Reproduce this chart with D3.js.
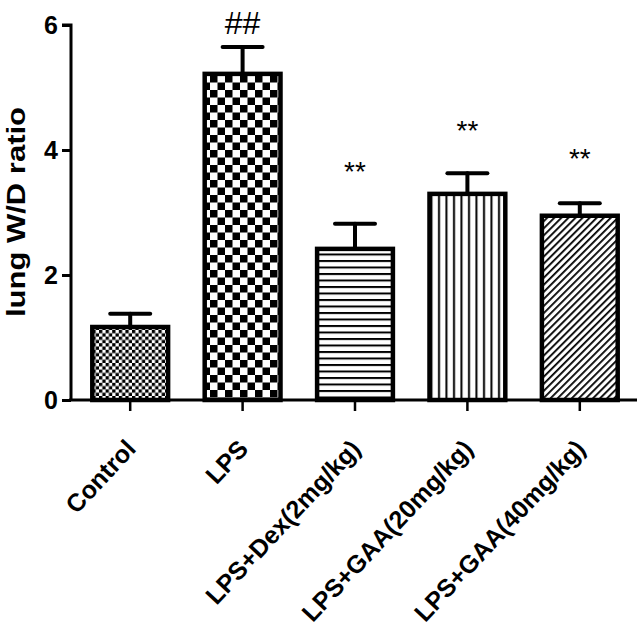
<!DOCTYPE html>
<html>
<head>
<meta charset="utf-8">
<script src="https://cdn.jsdelivr.net/npm/d3@7"></script>
<style>
  body { margin: 0; background: #fff; }
  svg { display: block; }
  text { font-family: "Liberation Sans", Arial, sans-serif; font-weight: bold; }
</style>
</head>
<body>
<div id="chart"></div>
<script>
var groups = ['Control', 'LPS', 'LPS+Dex(2mg/kg)', 'LPS+GAA(20mg/kg)', 'LPS+GAA(40mg/kg)'];
var means = [1.2, 5.25, 2.45, 3.33, 2.98];
var errors = [0.18, 0.4, 0.37, 0.3, 0.17];
var marks = ['', '##', '**', '**', '**'];
var markY = [0, 5.85, 3.5, 4.16, 3.71];   // baseline of the mark, in y units
var yTicks = [0, 2, 4, 6];

var width = 640, height = 629;
var svg = d3.select('#chart').append('svg')
  .attr('width', width)
  .attr('height', height);

var x = d3.scaleBand()
  .domain(groups)
  .range([74, 636])
  .paddingInner(0.29)
  .paddingOuter(0.145);

var y = d3.scaleLinear()
  .domain([0, 6])
  .range([400, 25]);

// fill patterns, one per bar
var defs = svg.append('defs');

function checker(id, s) {
  var p = defs.append('pattern').attr('id', id)
    .attr('patternUnits', 'userSpaceOnUse')
    .attr('width', s * 2).attr('height', s * 2);
  p.append('rect').attr('width', s * 2).attr('height', s * 2).attr('fill', '#fff');
  p.append('rect').attr('width', s).attr('height', s).attr('fill', '#000');
  p.append('rect').attr('x', s).attr('y', s).attr('width', s).attr('height', s).attr('fill', '#000');
}
checker('pat0', 3.3);
checker('pat1', 7.5);

var ph = defs.append('pattern').attr('id', 'pat2')
  .attr('patternUnits', 'userSpaceOnUse').attr('width', 10).attr('height', 6.5);
ph.append('rect').attr('width', 10).attr('height', 6.5).attr('fill', '#fff');
ph.append('rect').attr('y', 0).attr('width', 10).attr('height', 2).attr('fill', '#000');

var pv = defs.append('pattern').attr('id', 'pat3')
  .attr('patternUnits', 'userSpaceOnUse').attr('width', 7.5).attr('height', 10);
pv.append('rect').attr('width', 7.5).attr('height', 10).attr('fill', '#fff');
pv.append('rect').attr('x', 3).attr('width', 2).attr('height', 10).attr('fill', '#000');

var pd = defs.append('pattern').attr('id', 'pat4')
  .attr('patternUnits', 'userSpaceOnUse').attr('width', 5).attr('height', 5)
  .attr('patternTransform', 'rotate(45)');
pd.append('rect').attr('width', 5).attr('height', 5).attr('fill', '#fff');
pd.append('rect').attr('x', 0).attr('width', 1.8).attr('height', 5).attr('fill', '#000');

// error bars (up only)
var eb = svg.selectAll('.err')
  .data(groups)
  .enter()
  .append('g')
  .attr('class', 'err')
  .attr('stroke', '#000')
  .attr('stroke-width', 4)
  .attr('stroke-linecap', 'round');
eb.append('line')
  .attr('x1', function (d) { return x(d) + x.bandwidth() / 2; })
  .attr('x2', function (d) { return x(d) + x.bandwidth() / 2; })
  .attr('y1', function (d, i) { return y(means[i]); })
  .attr('y2', function (d, i) { return y(means[i] + errors[i]); });
eb.append('line')
  .attr('x1', function (d) { return x(d) + x.bandwidth() / 2 - 20; })
  .attr('x2', function (d) { return x(d) + x.bandwidth() / 2 + 20; })
  .attr('y1', function (d, i) { return y(means[i] + errors[i]); })
  .attr('y2', function (d, i) { return y(means[i] + errors[i]); });

// bars
svg.selectAll('.bar')
  .data(groups)
  .enter()
  .append('rect')
  .attr('class', 'bar')
  .attr('x', function (d) { return x(d) + 2; })
  .attr('width', x.bandwidth() - 4)
  .attr('y', function (d, i) { return y(means[i]) + 2; })
  .attr('height', function (d, i) { return y(0) - y(means[i]) - 2; })
  .attr('fill', function (d, i) { return 'url(#pat' + i + ')'; })
  .attr('stroke', '#000')
  .attr('stroke-width', 4.5);

// significance marks
svg.selectAll('.mark')
  .data(groups)
  .enter()
  .append('text')
  .attr('class', 'mark')
  .attr('x', function (d) { return x(d) + x.bandwidth() / 2; })
  .attr('y', function (d, i) { return y(markY[i]); })
  .attr('text-anchor', 'middle')
  .attr('font-size', function (d, i) { return i === 1 ? '32px' : '28px'; })
  .style('font-weight', 'normal')
  .text(function (d, i) { return marks[i]; });

// y axis
var yAxis = svg.append('g')
  .attr('transform', 'translate(71,0)')
  .call(d3.axisLeft(y).tickValues(yTicks).tickSize(9).tickPadding(4).tickFormat(d3.format('d')));
yAxis.select('.domain').attr('stroke-width', 3).attr('d', 'M-9,' + y(6) + 'H0V' + y(0));
yAxis.selectAll('.tick line').attr('stroke-width', 3);
yAxis.selectAll('.tick text')
  .attr('font-size', '25px')
  .attr('font-family', '"Liberation Sans", Arial, sans-serif')
  .attr('font-weight', 'bold')
  .attr('fill', '#000');

// x axis
var xAxis = svg.append('g')
  .attr('transform', 'translate(0,400)')
  .call(d3.axisBottom(x).tickSize(11));
xAxis.select('.domain').attr('stroke-width', 3).attr('d', 'M69,0H637');
xAxis.selectAll('.tick line').attr('stroke-width', 2.5);
xAxis.selectAll('.tick text')
  .attr('font-size', '25px')
  .attr('font-family', '"Liberation Sans", Arial, sans-serif')
  .attr('font-weight', 'bold')
  .attr('fill', '#000')
  .attr('text-anchor', 'end')
  .attr('x', 0)
  .attr('y', 0)
  .attr('dy', 0)
  .attr('transform', 'translate(7,50) rotate(-47)');

// y axis title
svg.append('text')
  .attr('transform', 'translate(25,212) rotate(-90)')
  .attr('text-anchor', 'middle')
  .attr('font-size', '25px')
  .attr('textLength', 210)
  .attr('lengthAdjust', 'spacingAndGlyphs')
  .text('lung W/D ratio');
</script>
</body>
</html>
